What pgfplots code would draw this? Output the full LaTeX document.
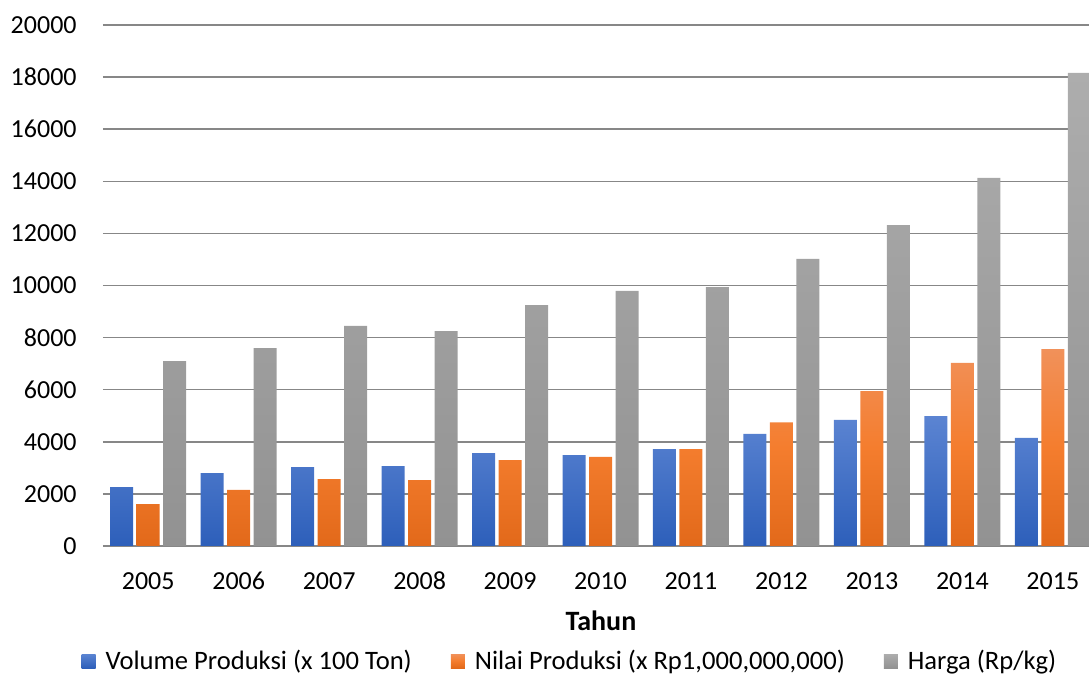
\documentclass[border=0pt]{standalone}
\usepackage{pgfplots}
\pgfplotsset{compat=1.18}
\usepackage{fontspec}
\setmainfont{Carlito}

\definecolor{bluetop}{HTML}{5B84D2}
\definecolor{bluebot}{HTML}{2D5FBA}
\definecolor{orgtop}{HTML}{F1915A}
\definecolor{orgmid}{HTML}{F47D2E}
\definecolor{orgbot}{HTML}{E2691A}
\definecolor{grytop}{HTML}{ADADAD}
\definecolor{grybot}{HTML}{929292}
\definecolor{gridc}{HTML}{878787}

\pgfplotsset{
  legbox/.style={legend image code/.code={
    \path[##1, draw=none] (0pt,-3.5pt) rectangle (7pt,3.5pt);}},
}

\begin{document}
\begin{tikzpicture}
\useasboundingbox (-51.5pt,-64.5pt) rectangle (493pt,273pt);
\begin{axis}[
    at={(0,0)}, anchor=south west,
    scale only axis,
    width=493pt, height=260.5pt,
    ybar=1.75pt, bar width=11.5pt,
    xmin=-0.5, xmax=10.40,
    ymin=0, ymax=20000,
    ytick={0,2000,...,20000},
    xtick={0,...,10},
    xticklabels={2005,2006,2007,2008,2009,2010,2011,2012,2013,2014,2015},
    scaled y ticks=false,
    /pgf/number format/assume math mode=true,
    yticklabel={\pgfmathprintnumber[fixed,1000 sep={}]{\tick}},
    tick style={draw=none},
    axis line style={draw=none},
    ymajorgrids,
    major grid style={gridc, line width=0.75pt},
    ticklabel style={font=\fontsize{13}{15}\selectfont},
    yticklabel style={anchor=east, inner sep=0pt, xshift=-13pt},
    xticklabel style={anchor=base, inner sep=0pt, yshift=-17.5pt},
    xlabel={\textbf{Tahun}},
    xlabel style={at={(axis description cs:0.505,0)}, anchor=base, inner sep=0pt,
      yshift=-42pt, font=\fontsize{14}{16}\selectfont},
    legend columns=3,
    legend style={at={(axis description cs:0.4746,0)}, anchor=center, yshift=-57.5pt,
      draw=none, fill=none, font=\fontsize{13.3}{15}\selectfont,
      /tikz/every odd column/.append style={column sep=3pt},
      /tikz/every even column/.append style={column sep=17.5pt}},
    clip=true,
]

% Volume Produksi (x 100 Ton)
\addplot[legbox, draw=none, top color=bluetop, bottom color=bluebot] coordinates {
    (0,2260) (1,2800) (2,3030) (3,3070) (4,3570) (5,3490)
    (6,3720) (7,4300) (8,4840) (9,4990) (10,4150)
};
\addlegendentry{Volume Produksi (x 100 Ton)}

% Nilai Produksi (x Rp1,000,000,000)
\addplot[legbox, draw=none, top color=orgtop, bottom color=orgbot, middle color=orgmid] coordinates {
    (0,1610) (1,2150) (2,2570) (3,2530) (4,3300) (5,3420)
    (6,3720) (7,4750) (8,5950) (9,7025) (10,7560)
};
\addlegendentry{Nilai Produksi (x Rp1,000,000,000)}

% Harga (Rp/kg)
\addplot[legbox, draw=none, top color=grytop, bottom color=grybot] coordinates {
    (0,7100) (1,7600) (2,8450) (3,8250) (4,9250) (5,9790)
    (6,9940) (7,11020) (8,12320) (9,14130) (10,18160)
};
\addlegendentry{Harga (Rp/kg)}

\end{axis}
\end{tikzpicture}
\end{document}
